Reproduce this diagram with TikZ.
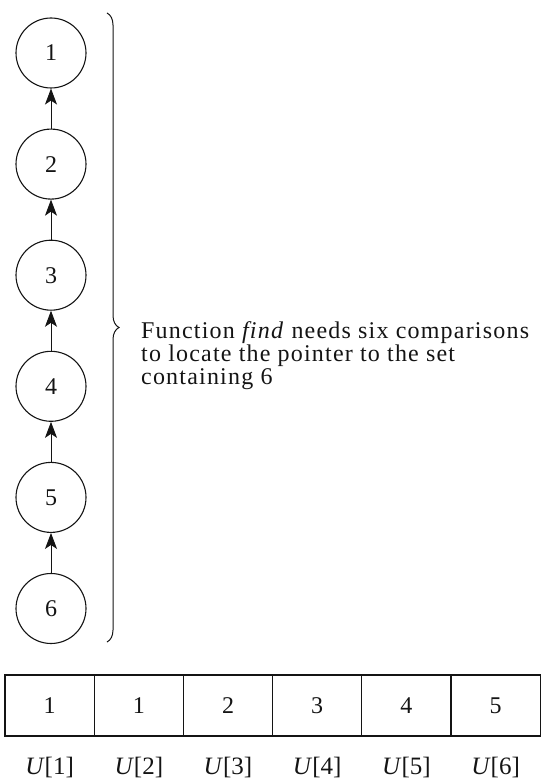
\documentclass[tikz,border=0pt]{standalone}
\usepackage{fontspec}
\setmainfont{Liberation Serif}
\newfontfamily\notefont[LetterSpace=5]{Liberation Serif}
\usepackage{tikz}
\usetikzlibrary{arrows.meta, positioning, calc, decorations.pathreplacing}
\usepackage{xcolor}
\definecolor{ink}{HTML}{141414}

\begin{document}
\begin{tikzpicture}[x=1pt, y=-1pt, font=\fontsize{24}{23}\selectfont,
    setnode/.style={circle, draw=ink, line width=1.1pt, minimum size=70pt, inner sep=0pt, text=ink},
    uparrow/.style={-{Stealth[length=16pt, width=12pt, inset=4pt]}, draw=ink, line width=0.9pt},
    cell/.style={draw=ink, line width=1.3pt, minimum width=89.2pt, minimum height=61pt, inner sep=0pt, outer sep=0pt, text=ink},
    node distance=40pt]
    \useasboundingbox (0,0) rectangle (542,783);

    % Chain of the set: 6 -> 5 -> 4 -> 3 -> 2 -> 1
    \node[setnode] (n1) at (51,53) {1};
    \foreach \j [count=\i from 2] in {1,...,5}
        \node[setnode, below=of n\j] (n\i) {\i};
    \foreach \j [count=\i from 2] in {1,...,5}
        \draw[uparrow] (n\i) -- (n\j);

    % Brace and note
    \coordinate (btop) at (107,13);
    \coordinate (bbot) at (107,642);
    \draw[ink, line width=1pt, decorate, decoration={brace, amplitude=12pt}] (btop) -- (bbot);
    \node[anchor=west, align=left, inner sep=0pt, text=ink, font=\notefont\fontsize{24}{23}\selectfont] (note) at (141,356)
        {Function \textit{find} needs six comparisons\\
         to locate the pointer to the set\\
         containing 6};

    % Array U
    \node[cell] (c1) at (49.6,705.5) {1};
    \foreach \j [count=\i from 2] in {1,...,5}
        \node[cell, right=0pt of c\j] (c\i) {\j};
    \foreach \i in {1,...,6}
        \node[text=ink, font=\fontsize{25}{26}\selectfont] (u\i) at ($(c\i.center)+(0,62)$) {\textit{U}[\i]};
\end{tikzpicture}
\end{document}
